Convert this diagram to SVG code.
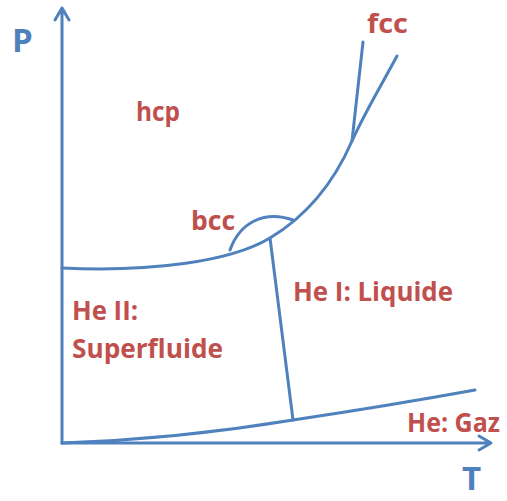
<svg xmlns="http://www.w3.org/2000/svg" width="507" height="501" viewBox="0 0 507 501">
<style>
.ln{fill:none;stroke:#4f81bd;stroke-width:3;stroke-linecap:round;stroke-linejoin:round}
.lbl{font-family:"Open Sans","Liberation Sans",sans-serif;font-weight:bold;fill:#c0504d;font-size:27px}
.ax{font-family:"Open Sans","Liberation Sans",sans-serif;font-weight:bold;fill:#4f81bd;font-size:33px}
</style>
<rect width="507" height="501" fill="#fff"/>
<g id="connectors">
<path class="ln" d="M62,443 V8 M55,20 L62,8 L69,20"/>
<path class="ln" d="M62,443 H490 M479,436 L491,443 L479,450"/>
<path class="ln" d="M62,268 C150,272 230,262 270,238 C310,214 335,180 352,141 C365,112 382,84 397,56"/>
<path class="ln" d="M352,141 L363,42"/>
<path class="ln" d="M230,250 C240,222 265,210 293,220"/>
<path class="ln" d="M270,238 L293,420"/>
<path class="ln" d="M62,443 C150,440 220,432 293,420 C360,410 420,400 475,390"/>
</g>
<g id="axis-P"><text class="ax" x="12" y="52">P</text></g>
<g id="axis-T"><text class="ax" x="462" y="490" font-size="29">T</text></g>
<g id="hcp"><text class="lbl" x="136" y="121" textLength="44" lengthAdjust="spacingAndGlyphs">hcp</text></g>
<g id="bcc"><text class="lbl" x="191" y="230" textLength="44" lengthAdjust="spacingAndGlyphs">bcc</text></g>
<g id="fcc"><text class="lbl" x="367" y="33" textLength="41" lengthAdjust="spacingAndGlyphs">fcc</text></g>
<g id="heII"><text class="lbl" x="72" y="320" textLength="66" lengthAdjust="spacingAndGlyphs">He II:</text><text class="lbl" x="72" y="358" textLength="151" lengthAdjust="spacingAndGlyphs">Superfluide</text></g>
<g id="heI"><text class="lbl" x="293" y="301" textLength="160" lengthAdjust="spacingAndGlyphs">He I: Liquide</text></g>
<g id="gaz"><text class="lbl" x="407" y="432" textLength="93" lengthAdjust="spacingAndGlyphs">He: Gaz</text></g>
</svg>
